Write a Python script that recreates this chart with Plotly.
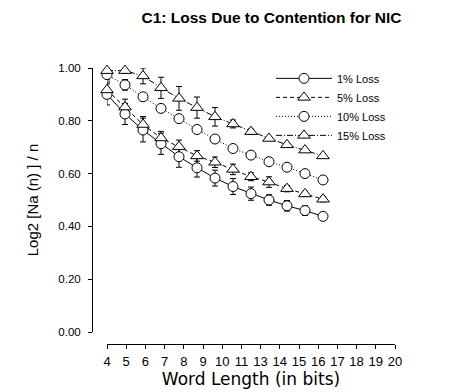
import plotly.graph_objects as go

word_length = [4, 5, 6, 7, 8, 9, 10, 11, 12, 13, 14, 15, 16]

loss_1 = [0.900, 0.826, 0.765, 0.713, 0.664, 0.622, 0.583, 0.551, 0.524, 0.500, 0.478, 0.460, 0.438]
err_1 = [0.040, 0.040, 0.045, 0.040, 0.040, 0.035, 0.030, 0.030, 0.025, 0.020, 0.020, 0.018, 0.015]

loss_5 = [0.917, 0.852, 0.786, 0.735, 0.702, 0.667, 0.643, 0.616, 0.588, 0.568, 0.543, 0.523, 0.503]
err_5 = [0.030, 0.030, 0.030, 0.025, 0.025, 0.020, 0.020, 0.020, 0.015, 0.020, 0.012, 0.010, 0.010]

loss_10 = [0.975, 0.936, 0.891, 0.847, 0.808, 0.767, 0.731, 0.695, 0.670, 0.645, 0.624, 0.600, 0.576]
err_10 = [0.020, 0.020, 0.015, 0.015, 0.010, 0.010, 0.005, 0.005, 0.005, 0.005, 0.005, 0.005, 0.005]

loss_15 = [0.990, 0.990, 0.970, 0.925, 0.885, 0.850, 0.815, 0.788, 0.759, 0.733, 0.709, 0.689, 0.667]
err_15 = [0.010, 0.010, 0.030, 0.040, 0.045, 0.040, 0.035, 0.015, 0.010, 0.005, 0.005, 0.005, 0.005]

series_names = ["1% Loss", "5% Loss", "10% Loss", "15% Loss"]
x_tick_labels = ["4", "5", "6", "7", "8", "9", "10", "11", "13", "14", "15", "16", "17", "18", "19", "20"]
y_tick_values = [0.0, 0.2, 0.4, 0.6, 0.8, 1.0]

styles = [
    ("circle", "solid"),
    ("triangle-up", "dash"),
    ("circle", "dot"),
    ("triangle-up", "dashdot"),
]
dash_map = {"solid": "solid", "dash": "4px,3px", "dot": "1px,2px", "dashdot": "6px,2px,1px,2px"}

all_y = [loss_1, loss_5, loss_10, loss_15]
all_err = [err_1, err_5, err_10, err_15]

fig = go.Figure()
# error bars first so that the open markers sit on top of them
for name, ys, errs in zip(series_names, all_y, all_err):
    fig.add_trace(go.Scatter(
        x=word_length, y=ys, name=name + " error", mode="markers", showlegend=False,
        marker=dict(size=1, opacity=0, color="black"),
        error_y=dict(type="data", array=errs, visible=True, color="black", thickness=1, width=3),
        cliponaxis=False, hoverinfo="skip",
    ))
for name, ys, (sym, dash) in zip(series_names, all_y, styles):
    fig.add_trace(go.Scatter(
        x=word_length, y=ys, name=name, mode="lines+markers",
        line=dict(color="black", width=1, dash=dash_map[dash]),
        marker=dict(symbol=sym, size=10 if sym == "circle" else 11, color="white",
                    line=dict(color="black", width=1)),
        cliponaxis=False,
    ))

W = 453 - 92 - 37
x_lo, x_hi = 4, 20
n_ticks = len(x_tick_labels)
tick_vals = [x_lo + i * (x_hi - x_lo) / (n_ticks - 1) for i in range(n_ticks)]

fig.update_layout(
    template="none",
    width=453, height=392, autosize=False,
    margin=dict(l=92, r=37, t=68, b=48, autoexpand=False),
    paper_bgcolor="white", plot_bgcolor="white",
    font=dict(family="Liberation Sans, Arial", color="black", size=11),
    title=dict(text="<b>C1: Loss Due to Contention for NIC</b>", x=251 / 453, xanchor="center",
               xref="paper", y=1 - 18 / 392, yanchor="middle", yref="container",
               font=dict(size=15.5, family="Liberation Sans, Arial", color="black")),
    showlegend=True,
    legend=dict(x=(271 - 92) / W, y=1.015, xanchor="left", yanchor="top",
                bgcolor="rgba(0,0,0,0)", font=dict(size=11), itemwidth=56,
                tracegroupgap=0, borderwidth=0),
    xaxis=dict(domain=[15 / W, 303 / W], range=[x_lo, x_hi], anchor="free", position=0,
               automargin=False,
               showline=True, linecolor="black", linewidth=1, ticks="outside", ticklen=4,
               tickcolor="black", tickvals=tick_vals, ticktext=x_tick_labels,
               showgrid=False, zeroline=False, ticklabelstandoff=1,
               tickfont=dict(size=13, family="Liberation Sans, Arial"),
               title=dict(text="Word Length (in bits)", standoff=3,
                          font=dict(size=17, family="DejaVu Sans"))),
    yaxis=dict(domain=[12 / 276, 1], range=[0, 1], anchor="free", position=0,
               automargin=False,
               showline=True, linecolor="black", linewidth=1, ticks="outside", ticklen=4,
               tickcolor="black", tickvals=y_tick_values, tickformat=".2f",
               showgrid=False, zeroline=False, ticklabelstandoff=5,
               tickfont=dict(size=11.5, family="Liberation Sans, Arial"),
               title=dict(text="Log2 [Na (n) ] / n", standoff=15,
                          font=dict(size=15, family="Liberation Sans, Arial"))),
)

fig.write_html("out.html")
